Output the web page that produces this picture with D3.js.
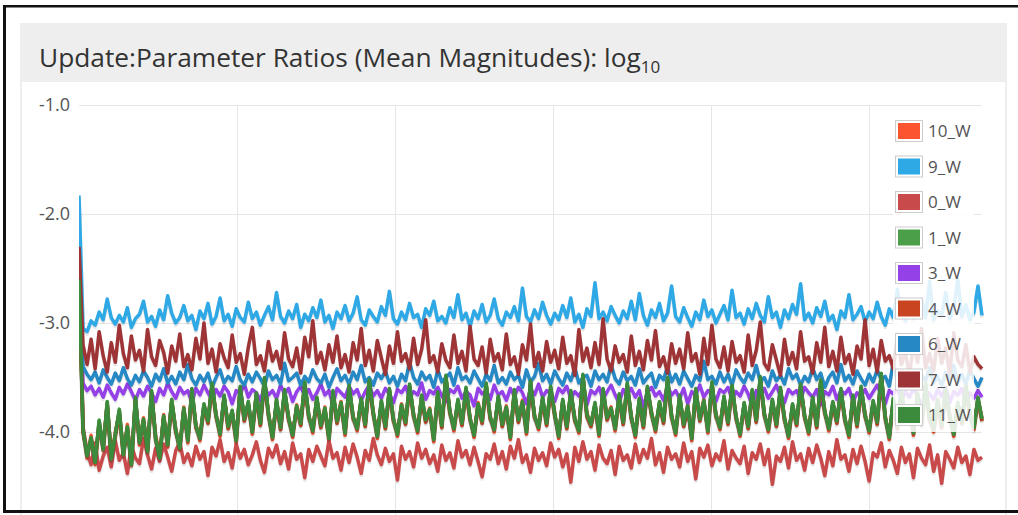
<!DOCTYPE html>
<html>
<head>
<meta charset="utf-8">
<script src="https://cdn.jsdelivr.net/npm/d3@7"></script>
<style>
  html, body { margin: 0; padding: 0; background: #fff; }
  svg { display: block; }
</style>
</head>
<body>
<div id="chart"></div>
<script>
// legend order = draw order (last one ends on top)
var seriesNames = ['10_W', '9_W', '0_W', '1_W', '3_W', '4_W', '6_W', '7_W', '11_W'];
var seriesColors = ['#fc5430', '#2ea9e6', '#c94a4a', '#4a9f48', '#9541e8', '#c94520', '#2688c4', '#9e3436', '#3c8a3c'];
var yTicks = [-1, -2, -3, -4];
var xTicks = [1000, 2000, 3000, 4000, 5000];
var lastIteration = 5715;

var w10 = [
  -2.45,-3.97,-4.24,-4.03,-4.30,-3.92,-4.17,-3.74,-4.27,-4.00,-3.82,-4.22,-3.93,-4.31,-3.70,
  -4.12,-3.87,-4.20,-3.64,-4.07,-4.25,-3.84,-4.14,-3.72,-3.97,-4.17,-3.77,-4.10,-3.62,-3.93,
  -4.08,-3.76,-3.89,-3.57,-3.83,-4.04,-3.68,-3.94,-3.82,-4.10,-3.60,-3.87,-3.74,-4.02,-3.66,
  -3.91,-3.52,-3.82,-4.07,-3.72,-3.95,-3.63,-3.86,-4.05,-3.75,-3.91,-3.56,-3.84,-4.01,-3.70,
  -3.93,-3.77,-4.08,-3.64,-3.89,-3.72,-4.03,-3.59,-3.85,-3.99,-3.71,-3.92,-3.54,-3.81,-4.06,
  -3.73,-3.94,-3.62,-3.87,-4.04,-3.74,-3.90,-3.58,-3.83,-4.01,-3.68,-3.88,-3.78,-4.09,-3.65,
  -3.93,-3.50,-3.80,-3.99,-3.72,-3.91,-3.61,-3.86,-4.05,-3.73,-3.89,-3.57,-3.85,-4.00,-3.69,
  -3.92,-3.76,-4.07,-3.63,-3.88,-3.71,-4.02,-3.55,-3.84,-3.98,-3.70,-3.91,-3.60,-3.82,-4.06,
  -3.72,-3.94,-3.64,-3.87,-4.01,-3.49,-3.83,-3.92,-3.75,-4.04,-3.62,-3.86,-3.77,-3.99,-3.67,
  -3.90,-3.57,-3.85,-4.05,-3.71,-3.93,-3.60,-3.81,-4.00,-3.74,-3.89,-3.52,-3.84,-4.03,-3.68,
  -3.92,-3.75,-4.08,-3.62,-3.87,-3.70,-4.01,-3.56,-3.83,-3.98,-3.69,-3.90,-3.59,-3.85,-4.04,
  -3.75,-3.94,-3.63,-3.88,-3.51,-3.82,-4.00,-3.72,-3.92,-3.61,-3.86,-4.06,-3.76,-3.91,-3.58,
  -3.84,-4.02,-3.70,-3.93,-3.54,-3.80,-3.99,-3.74,-3.89,-3.62,-3.87,-4.05,-3.68,-3.92,-3.60,
  -3.83,-4.01,-3.73,-3.90,-3.48,-3.85,-4.07,-3.71,-3.94,-3.64,-3.88,-3.76,-4.03,-3.66,-3.91,
  -3.57,-3.86,-4.00,-3.72,-3.93,-3.62,-3.84,-4.04,-3.75,-3.89,-3.59,-3.82,-3.98,-3.70,-3.87
];
var w9 = [
  -1.83,-3.05,-3.08,-2.98,-3.02,-2.90,-2.97,-2.78,-2.95,-3.01,-2.93,-2.99,-2.86,-3.04,-2.96,
  -2.92,-2.80,-2.99,-2.94,-3.03,-2.88,-2.97,-2.75,-2.91,-3.00,-2.95,-2.84,-2.98,-2.93,-3.06,
  -2.89,-2.96,-2.82,-3.01,-2.94,-2.77,-2.98,-2.92,-3.03,-2.87,-2.95,-2.99,-2.81,-2.96,-2.90,
  -3.02,-2.93,-2.85,-2.97,-2.72,-2.94,-3.00,-2.89,-2.96,-2.83,-3.04,-2.92,-2.98,-2.86,-2.95,
  -2.79,-2.99,-2.93,-3.05,-2.90,-2.96,-2.84,-2.98,-2.91,-2.76,-2.97,-3.02,-2.88,-2.94,-2.99,
  -2.85,-2.93,-2.71,-2.96,-3.01,-2.90,-2.97,-2.82,-2.95,-2.92,-3.04,-2.87,-2.93,-2.80,-2.98,
  -2.94,-3.00,-2.86,-2.95,-2.74,-2.97,-2.91,-3.03,-2.89,-2.96,-2.83,-2.99,-2.93,-2.78,-2.96,
  -3.02,-2.90,-2.95,-2.85,-2.98,-2.68,-2.94,-2.99,-2.88,-2.96,-2.81,-2.93,-3.01,-2.91,-2.97,
  -2.84,-2.95,-2.77,-2.99,-2.92,-3.04,-2.87,-2.94,-2.63,-2.96,-2.90,-2.98,-2.85,-2.93,-3.00,
  -2.89,-2.96,-2.80,-2.97,-2.73,-2.93,-3.02,-2.88,-2.95,-2.82,-2.98,-2.91,-2.66,-2.94,-2.99,
  -2.86,-2.95,-3.03,-2.90,-2.97,-2.79,-2.94,-2.88,-3.00,-2.92,-2.84,-2.97,-2.70,-2.95,-2.91,
  -3.01,-2.87,-2.96,-2.82,-2.93,-2.99,-2.76,-2.95,-2.90,-3.04,-2.88,-2.96,-2.83,-2.92,-2.64,
  -2.97,-2.91,-3.00,-2.86,-2.94,-2.80,-2.98,-2.93,-3.06,-2.89,-2.95,-2.74,-2.97,-2.92,-2.85,
  -2.99,-2.90,-2.96,-2.81,-2.94,-3.02,-2.87,-2.95,-2.69,-2.93,-2.98,-2.84,-2.96,-2.91,-2.78,
  -2.95,-2.62,-2.97,-2.89,-2.93,-2.72,-2.96,-2.86,-2.60,-2.94,-2.83,-2.97,-2.90,-2.66,-2.93
];
var w0 = [
  -2.40,-3.95,-4.18,-4.30,-4.10,-4.35,-4.22,-4.14,-4.32,-4.08,-4.26,-4.19,-4.38,-4.12,-4.24,
  -4.29,-4.06,-4.21,-4.34,-4.15,-4.27,-4.11,-4.23,-4.36,-4.17,-4.09,-4.28,-4.20,-4.31,-4.13,
  -4.25,-4.18,-4.40,-4.14,-4.22,-4.07,-4.27,-4.19,-4.33,-4.11,-4.24,-4.16,-4.30,-4.21,-4.09,
  -4.26,-4.37,-4.15,-4.23,-4.12,-4.29,-4.18,-4.34,-4.10,-4.25,-4.20,-4.42,-4.16,-4.27,-4.13,
  -4.22,-4.31,-4.08,-4.24,-4.19,-4.35,-4.14,-4.28,-4.11,-4.23,-4.38,-4.17,-4.26,-4.06,-4.21,
  -4.30,-4.15,-4.27,-4.20,-4.44,-4.13,-4.25,-4.18,-4.32,-4.10,-4.24,-4.16,-4.29,-4.21,-4.36,
  -4.12,-4.26,-4.19,-4.33,-4.08,-4.23,-4.17,-4.30,-4.14,-4.27,-4.41,-4.20,-4.25,-4.11,-4.29,
  -4.18,-4.34,-4.13,-4.24,-4.07,-4.28,-4.21,-4.37,-4.15,-4.26,-4.19,-4.31,-4.10,-4.23,-4.16,
  -4.32,-4.20,-4.46,-4.14,-4.27,-4.09,-4.25,-4.18,-4.35,-4.12,-4.24,-4.29,-4.17,-4.39,-4.13,
  -4.26,-4.21,-4.33,-4.11,-4.28,-4.16,-4.24,-4.06,-4.30,-4.19,-4.37,-4.14,-4.25,-4.20,-4.32,
  -4.10,-4.27,-4.18,-4.43,-4.15,-4.23,-4.12,-4.31,-4.20,-4.26,-4.08,-4.34,-4.17,-4.24,-4.29,
  -4.13,-4.38,-4.19,-4.25,-4.11,-4.30,-4.16,-4.48,-4.22,-4.27,-4.14,-4.33,-4.09,-4.26,-4.20,
  -4.35,-4.15,-4.28,-4.12,-4.24,-4.40,-4.18,-4.31,-4.07,-4.25,-4.21,-4.36,-4.16,-4.29,-4.13,
  -4.27,-4.45,-4.19,-4.23,-4.10,-4.32,-4.17,-4.26,-4.38,-4.14,-4.28,-4.20,-4.42,-4.15,-4.24,
  -4.30,-4.12,-4.36,-4.21,-4.47,-4.18,-4.25,-4.33,-4.14,-4.28,-4.22,-4.39,-4.16,-4.26,-4.23
];
var w1 = [
  -2.55,-3.99,-4.21,-4.06,-4.27,-3.89,-4.16,-3.73,-4.24,-4.03,-3.79,-4.21,-3.96,-4.29,-3.69,
  -4.09,-3.89,-4.17,-3.63,-4.06,-4.23,-3.86,-4.11,-3.71,-3.99,-4.14,-3.79,-4.07,-3.61,-3.95,
  -4.05,-3.75,-3.91,-3.56,-3.85,-4.01,-3.67,-3.96,-3.81,-4.07,-3.59,-3.89,-3.73,-3.99,-3.65,
  -3.93,-3.51,-3.84,-4.04,-3.71,-3.97,-3.62,-3.88,-4.02,-3.77,-3.93,-3.55,-3.86,-3.98,-3.69,
  -3.95,-3.79,-4.05,-3.63,-3.91,-3.74,-4.00,-3.58,-3.87,-3.96,-3.70,-3.94,-3.53,-3.83,-4.03,
  -3.72,-3.96,-3.61,-3.89,-4.01,-3.76,-3.92,-3.57,-3.85,-3.98,-3.67,-3.90,-3.80,-4.06,-3.64,
  -3.95,-3.49,-3.82,-3.96,-3.71,-3.93,-3.60,-3.88,-4.02,-3.75,-3.91,-3.56,-3.87,-3.97,-3.68,
  -3.94,-3.78,-4.04,-3.62,-3.90,-3.73,-3.99,-3.54,-3.86,-3.95,-3.69,-3.93,-3.59,-3.84,-4.03,
  -3.71,-3.96,-3.63,-3.89,-3.98,-3.48,-3.85,-3.94,-3.74,-4.01,-3.61,-3.88,-3.79,-3.96,-3.66,
  -3.92,-3.56,-3.87,-4.02,-3.70,-3.95,-3.59,-3.83,-3.97,-3.73,-3.91,-3.51,-3.86,-4.00,-3.67,
  -3.94,-3.77,-4.05,-3.61,-3.89,-3.72,-3.98,-3.55,-3.85,-3.95,-3.68,-3.92,-3.58,-3.87,-4.01,
  -3.74,-3.96,-3.62,-3.90,-3.50,-3.84,-3.97,-3.71,-3.94,-3.60,-3.88,-4.03,-3.75,-3.93,-3.57,
  -3.86,-3.99,-3.69,-3.95,-3.53,-3.82,-3.96,-3.73,-3.91,-3.61,-3.89,-4.02,-3.67,-3.94,-3.59,
  -3.85,-3.98,-3.72,-3.92,-3.47,-3.87,-4.04,-3.70,-3.96,-3.63,-3.90,-3.78,-4.00,-3.65,-3.93,
  -3.56,-3.88,-3.97,-3.71,-3.95,-3.61,-3.86,-4.01,-3.74,-3.91,-3.58,-3.84,-3.95,-3.69,-3.89
];
var w3 = [
  -2.70,-3.55,-3.62,-3.58,-3.66,-3.60,-3.68,-3.57,-3.64,-3.70,-3.59,-3.65,-3.56,-3.63,-3.71,
  -3.61,-3.67,-3.58,-3.64,-3.72,-3.60,-3.66,-3.55,-3.63,-3.69,-3.59,-3.65,-3.62,-3.73,-3.60,
  -3.66,-3.57,-3.64,-3.70,-3.61,-3.67,-3.58,-3.63,-3.74,-3.62,-3.65,-3.56,-3.68,-3.61,-3.64,
  -3.71,-3.59,-3.66,-3.62,-3.69,-3.57,-3.65,-3.60,-3.72,-3.63,-3.58,-3.67,-3.61,-3.70,-3.64,
  -3.56,-3.66,-3.62,-3.75,-3.60,-3.64,-3.68,-3.58,-3.65,-3.61,-3.71,-3.63,-3.57,-3.67,-3.62,
  -3.69,-3.60,-3.65,-3.73,-3.61,-3.64,-3.58,-3.68,-3.63,-3.66,-3.55,-3.70,-3.62,-3.65,-3.59,
  -3.67,-3.72,-3.61,-3.64,-3.58,-3.69,-3.63,-3.66,-3.76,-3.60,-3.65,-3.62,-3.70,-3.57,-3.66,
  -3.63,-3.71,-3.60,-3.67,-3.59,-3.64,-3.74,-3.61,-3.66,-3.56,-3.68,-3.62,-3.65,-3.72,-3.60,
  -3.64,-3.58,-3.69,-3.63,-3.67,-3.61,-3.75,-3.62,-3.65,-3.59,-3.70,-3.63,-3.57,-3.66,-3.73,
  -3.61,-3.65,-3.60,-3.68,-3.62,-3.77,-3.64,-3.59,-3.67,-3.63,-3.71,-3.58,-3.66,-3.62,-3.69,
  -3.60,-3.74,-3.63,-3.66,-3.57,-3.68,-3.62,-3.65,-3.72,-3.61,-3.64,-3.59,-3.70,-3.63,-3.67,
  -3.58,-3.65,-3.76,-3.62,-3.66,-3.60,-3.69,-3.63,-3.57,-3.67,-3.73,-3.61,-3.65,-3.62,-3.70,
  -3.59,-3.64,-3.68,-3.61,-3.75,-3.63,-3.66,-3.58,-3.70,-3.62,-3.65,-3.60,-3.72,-3.64,-3.67,
  -3.61,-3.69,-3.63,-3.57,-3.66,-3.74,-3.62,-3.65,-3.59,-3.71,-3.63,-3.68,-3.60,-3.66,-3.78,
  -3.62,-3.65,-3.70,-3.61,-3.67,-3.59,-3.73,-3.63,-3.66,-3.60,-3.72,-3.64,-3.69,-3.62,-3.68
];
var w4 = [
  -2.50,-4.00,-4.20,-4.07,-4.26,-3.93,-4.13,-3.75,-4.22,-4.04,-3.83,-4.18,-3.97,-4.27,-3.71,
  -4.08,-3.90,-4.16,-3.65,-4.03,-4.21,-3.87,-4.10,-3.73,-4.00,-4.13,-3.80,-4.06,-3.63,-3.96,
  -4.04,-3.77,-3.92,-3.58,-3.86,-4.00,-3.69,-3.97,-3.82,-4.05,-3.61,-3.90,-3.75,-3.98,-3.67,
  -3.94,-3.53,-3.85,-4.03,-3.73,-3.98,-3.64,-3.89,-4.01,-3.78,-3.94,-3.57,-3.87,-3.97,-3.71,
  -3.96,-3.80,-4.04,-3.65,-3.92,-3.75,-3.99,-3.60,-3.88,-3.95,-3.72,-3.95,-3.55,-3.84,-4.02,
  -3.74,-3.97,-3.63,-3.90,-4.00,-3.77,-3.93,-3.59,-3.86,-3.97,-3.69,-3.91,-3.81,-4.04,-3.66,
  -3.96,-3.51,-3.83,-3.95,-3.73,-3.94,-3.62,-3.89,-4.01,-3.76,-3.92,-3.58,-3.88,-3.96,-3.70,
  -3.95,-3.79,-4.03,-3.64,-3.91,-3.74,-3.98,-3.56,-3.87,-3.94,-3.71,-3.94,-3.61,-3.85,-4.02,
  -3.73,-3.97,-3.65,-3.90,-3.97,-3.50,-3.86,-3.95,-3.76,-4.00,-3.63,-3.89,-3.80,-3.95,-3.68,
  -3.93,-3.58,-3.88,-4.01,-3.72,-3.96,-3.61,-3.84,-3.96,-3.75,-3.92,-3.53,-3.87,-3.99,-3.69,
  -3.95,-3.78,-4.04,-3.63,-3.90,-3.73,-3.97,-3.57,-3.86,-3.94,-3.70,-3.93,-3.60,-3.88,-4.00,
  -3.76,-3.97,-3.64,-3.91,-3.52,-3.85,-3.96,-3.73,-3.95,-3.62,-3.89,-4.02,-3.77,-3.94,-3.59,
  -3.87,-3.98,-3.71,-3.96,-3.55,-3.83,-3.95,-3.75,-3.92,-3.63,-3.90,-4.01,-3.69,-3.95,-3.61,
  -3.86,-3.97,-3.74,-3.93,-3.49,-3.88,-4.03,-3.72,-3.97,-3.65,-3.91,-3.79,-3.99,-3.67,-3.94,
  -3.58,-3.89,-3.96,-3.73,-3.96,-3.63,-3.87,-4.00,-3.76,-3.92,-3.60,-3.85,-3.94,-3.71,-3.90
];
var w6 = [
  -2.65,-3.40,-3.47,-3.52,-3.45,-3.55,-3.43,-3.50,-3.56,-3.46,-3.53,-3.41,-3.51,-3.57,-3.48,
  -3.54,-3.44,-3.50,-3.58,-3.47,-3.53,-3.42,-3.55,-3.49,-3.56,-3.45,-3.52,-3.38,-3.51,-3.57,
  -3.48,-3.54,-3.46,-3.59,-3.50,-3.43,-3.55,-3.49,-3.53,-3.40,-3.52,-3.57,-3.47,-3.54,-3.45,
  -3.51,-3.58,-3.44,-3.52,-3.48,-3.56,-3.37,-3.53,-3.50,-3.46,-3.57,-3.49,-3.54,-3.43,-3.51,
  -3.55,-3.47,-3.59,-3.50,-3.42,-3.53,-3.48,-3.56,-3.45,-3.52,-3.39,-3.54,-3.50,-3.57,-3.46,
  -3.51,-3.44,-3.55,-3.49,-3.58,-3.47,-3.53,-3.36,-3.50,-3.56,-3.45,-3.52,-3.48,-3.59,-3.43,
  -3.54,-3.50,-3.46,-3.57,-3.41,-3.52,-3.49,-3.55,-3.44,-3.51,-3.58,-3.47,-3.53,-3.39,-3.55,
  -3.50,-3.56,-3.45,-3.52,-3.48,-3.59,-3.43,-3.54,-3.49,-3.37,-3.53,-3.47,-3.56,-3.44,-3.51,
  -3.57,-3.46,-3.53,-3.41,-3.55,-3.50,-3.48,-3.58,-3.44,-3.52,-3.47,-3.54,-3.38,-3.51,-3.56,
  -3.45,-3.53,-3.49,-3.57,-3.42,-3.55,-3.50,-3.46,-3.59,-3.48,-3.52,-3.40,-3.54,-3.47,-3.56,
  -3.44,-3.51,-3.58,-3.48,-3.53,-3.35,-3.52,-3.49,-3.56,-3.45,-3.54,-3.47,-3.57,-3.43,-3.50,
  -3.55,-3.46,-3.52,-3.39,-3.54,-3.50,-3.58,-3.44,-3.53,-3.48,-3.56,-3.42,-3.51,-3.47,-3.57,
  -3.49,-3.54,-3.41,-3.52,-3.46,-3.59,-3.50,-3.45,-3.55,-3.38,-3.53,-3.48,-3.56,-3.44,-3.51,
  -3.57,-3.47,-3.54,-3.43,-3.52,-3.49,-3.58,-3.36,-3.53,-3.46,-3.55,-3.50,-3.44,-3.56,-3.48,
  -3.53,-3.41,-3.55,-3.49,-3.57,-3.45,-3.52,-3.39,-3.54,-3.47,-3.56,-3.43,-3.51,-3.58,-3.50
];
var w7 = [
  -2.30,-3.20,-3.38,-3.15,-3.42,-3.08,-3.30,-3.45,-3.18,-3.36,-3.02,-3.28,-3.41,-3.12,-3.34,
  -3.25,-3.44,-3.06,-3.31,-3.39,-3.16,-3.27,-3.46,-3.21,-3.35,-3.10,-3.40,-3.29,-3.43,-3.14,
  -3.33,-3.00,-3.37,-3.24,-3.45,-3.19,-3.32,-3.41,-3.11,-3.36,-3.28,-3.47,-3.22,-3.04,-3.38,
  -3.30,-3.44,-3.17,-3.35,-3.26,-3.42,-3.09,-3.33,-3.40,-3.23,-3.46,-3.13,-3.31,-2.98,-3.37,
  -3.27,-3.43,-3.20,-3.36,-3.12,-3.41,-3.29,-3.45,-3.18,-3.34,-3.05,-3.39,-3.25,-3.44,-3.16,
  -3.32,-3.47,-3.21,-3.37,-3.08,-3.35,-3.28,-3.42,-3.14,-3.38,-3.24,-2.97,-3.36,-3.30,-3.45,
  -3.19,-3.34,-3.41,-3.11,-3.37,-3.26,-3.44,-3.03,-3.33,-3.39,-3.22,-3.46,-3.15,-3.35,-3.28,
  -3.43,-3.10,-3.38,-3.31,-3.47,-3.20,-3.34,-3.01,-3.40,-3.27,-3.44,-3.17,-3.36,-3.25,-3.42,
  -3.13,-3.37,-3.30,-3.48,-3.06,-3.35,-3.23,-3.41,-3.18,-3.38,-2.96,-3.33,-3.44,-3.21,-3.36,
  -3.29,-3.45,-3.12,-3.39,-3.26,-3.43,-3.16,-3.34,-3.07,-3.40,-3.31,-3.46,-3.19,-3.37,-3.24,
  -3.42,-3.09,-3.35,-3.28,-3.47,-3.14,-3.38,-3.02,-3.33,-3.41,-3.22,-3.44,-3.17,-3.36,-3.30,
  -3.45,-3.11,-3.39,-3.25,-2.99,-3.37,-3.43,-3.20,-3.34,-3.48,-3.15,-3.38,-3.27,-3.42,-3.08,
  -3.35,-3.31,-3.46,-3.18,-3.36,-3.04,-3.40,-3.26,-3.44,-3.13,-3.37,-3.29,-3.47,-3.21,-3.33,
  -2.97,-3.39,-3.24,-3.45,-3.16,-3.35,-3.30,-3.42,-3.10,-3.38,-3.27,-3.48,-3.19,-3.36,-3.05,
  -3.41,-3.28,-3.44,-3.14,-3.37,-3.23,-3.46,-3.09,-3.34,-3.40,-3.20,-3.45,-3.31,-3.38,-3.42
];
var w11 = [
  -2.60,-3.98,-4.22,-4.05,-4.28,-3.90,-4.15,-3.72,-4.25,-4.02,-3.80,-4.20,-3.95,-4.30,-3.68,
  -4.10,-3.88,-4.18,-3.62,-4.05,-4.24,-3.85,-4.12,-3.70,-3.98,-4.15,-3.78,-4.08,-3.60,-3.94,
  -4.06,-3.74,-3.90,-3.55,-3.84,-4.02,-3.66,-3.95,-3.80,-4.08,-3.58,-3.88,-3.72,-4.00,-3.64,
  -3.92,-3.50,-3.83,-4.05,-3.70,-3.96,-3.61,-3.87,-4.03,-3.76,-3.92,-3.54,-3.85,-3.99,-3.68,
  -3.94,-3.78,-4.06,-3.62,-3.90,-3.73,-4.01,-3.57,-3.86,-3.97,-3.69,-3.93,-3.52,-3.82,-4.04,
  -3.71,-3.95,-3.60,-3.88,-4.02,-3.75,-3.91,-3.56,-3.84,-3.99,-3.66,-3.89,-3.79,-4.07,-3.63,
  -3.94,-3.48,-3.81,-3.97,-3.70,-3.92,-3.59,-3.87,-4.03,-3.74,-3.90,-3.55,-3.86,-3.98,-3.67,
  -3.93,-3.77,-4.05,-3.61,-3.89,-3.72,-4.00,-3.53,-3.85,-3.96,-3.68,-3.92,-3.58,-3.83,-4.04,
  -3.70,-3.95,-3.62,-3.88,-3.99,-3.47,-3.84,-3.93,-3.73,-4.02,-3.60,-3.87,-3.78,-3.97,-3.65,
  -3.91,-3.55,-3.86,-4.03,-3.69,-3.94,-3.58,-3.82,-3.98,-3.72,-3.90,-3.50,-3.85,-4.01,-3.66,
  -3.93,-3.76,-4.06,-3.60,-3.88,-3.71,-3.99,-3.54,-3.84,-3.96,-3.67,-3.91,-3.57,-3.86,-4.02,
  -3.73,-3.95,-3.61,-3.89,-3.49,-3.83,-3.98,-3.70,-3.93,-3.59,-3.87,-4.04,-3.74,-3.92,-3.56,
  -3.85,-4.00,-3.68,-3.94,-3.52,-3.81,-3.97,-3.72,-3.90,-3.60,-3.88,-4.03,-3.66,-3.93,-3.58,
  -3.84,-3.99,-3.71,-3.91,-3.46,-3.86,-4.05,-3.69,-3.95,-3.62,-3.89,-3.77,-4.01,-3.64,-3.92,
  -3.55,-3.87,-3.98,-3.70,-3.94,-3.60,-3.85,-4.02,-3.73,-3.90,-3.57,-3.83,-3.96,-3.68,-3.88
];
var seriesValues = [w10, w9, w0, w1, w3, w4, w6, w7, w11];

window.addEventListener('DOMContentLoaded', function() {

  var W = 1018;
  var H = 515;
  var plot = { left: 79, right: 982, top: 105, bottom: 545 };

  var svg = d3.select('#chart')
              .append('svg')
              .attr('width', W)
              .attr('height', H);

  // panel
  svg.append('rect').attr('x', 0).attr('y', 0).attr('width', W).attr('height', H).attr('fill', '#fff');
  svg.append('rect')
     .attr('x', 20).attr('y', 23).attr('width', 987).attr('height', 520)
     .attr('fill', '#eeeeee');
  svg.append('rect')
     .attr('x', 22).attr('y', 82).attr('width', 983).attr('height', 460)
     .attr('fill', '#fff');

  var title = svg.append('text')
     .attr('x', 39).attr('y', 67)
     .attr('font-family', '"Open Sans", sans-serif')
     .attr('font-size', 26.3)
     .attr('fill', '#333');
  title.append('tspan').text('Update:Parameter Ratios (Mean Magnitudes): log');
  title.append('tspan').attr('font-size', 17).attr('dy', 6).text('10');

  var xScale = d3.scaleLinear()
                 .domain([0, lastIteration])
                 .range([plot.left, plot.right]);
  var yScale = d3.scaleLinear()
                 .domain([-1, -5])
                 .range([plot.top, plot.top + 4 * 109]);

  // grid
  var grid = svg.append('g').attr('stroke', '#e6e6e6').attr('stroke-width', 1);
  grid.selectAll('.hgrid').data(yTicks).enter().append('line')
      .attr('x1', plot.left).attr('x2', plot.right)
      .attr('y1', d => Math.round(yScale(d)) + 0.5)
      .attr('y2', d => Math.round(yScale(d)) + 0.5);
  grid.selectAll('.vgrid').data(xTicks).enter().append('line')
      .attr('x1', d => Math.round(xScale(d)) + 0.5)
      .attr('x2', d => Math.round(xScale(d)) + 0.5)
      .attr('y1', plot.top).attr('y2', plot.bottom);

  var yAxis = d3.axisLeft(yScale)
                .tickValues(yTicks)
                .tickSize(0)
                .tickPadding(9)
                .tickFormat(d => d.toFixed(1));
  var yg = svg.append('g')
     .attr('transform', `translate(${plot.left},0)`)
     .call(yAxis);
  yg.select('.domain').remove();
  yg.selectAll('text')
    .attr('font-family', '"Open Sans", sans-serif')
    .attr('font-size', 18)
    .attr('fill', '#545454');

  svg.append('clipPath').attr('id', 'clip')
     .append('rect')
     .attr('x', plot.left).attr('y', plot.top - 5)
     .attr('width', plot.right - plot.left + 2)
     .attr('height', plot.bottom - plot.top);

  var n = w9.length;
  var iterations = d3.range(n).map(i => i * lastIteration / (n - 1));

  var line = d3.line()
               .x((d, i) => xScale(iterations[i]))
               .y(d => yScale(d));

  var lines = svg.append('g').attr('clip-path', 'url(#clip)');
  seriesValues.forEach(function(vals, k) {
    lines.append('path')
         .attr('d', line(vals))
         .attr('transform', 'translate(0,2)')
         .attr('fill', 'none')
         .attr('stroke', 'rgba(0,0,0,0.1)')
         .attr('stroke-width', 4)
         .attr('stroke-linejoin', 'round');
    lines.append('path')
         .attr('d', line(vals))
         .attr('fill', 'none')
         .attr('stroke', seriesColors[k])
         .attr('stroke-width', 3.5)
         .attr('stroke-linejoin', 'round');
  });

  // legend
  var legend = svg.append('g');
  legend.append('rect')
        .attr('x', 893).attr('y', 117).attr('width', 81).attr('height', 315)
        .attr('fill', '#fff').attr('opacity', 0.85);
  var rowStep = 35.5;
  var rows = legend.selectAll('.row').data(seriesNames).enter().append('g')
        .attr('transform', (d, i) => `translate(0,${131 + i * rowStep})`);
  rows.append('rect')
      .attr('x', 895.5).attr('y', -10.5).attr('width', 27).attr('height', 21)
      .attr('fill', '#fff').attr('stroke', '#ccc');
  rows.append('rect')
      .attr('x', 898).attr('y', -8).attr('width', 22).attr('height', 16)
      .attr('fill', (d, i) => seriesColors[i]);
  rows.append('text')
      .attr('x', 928).attr('y', 6)
      .attr('font-family', '"Open Sans", sans-serif')
      .attr('font-size', 17)
      .attr('fill', '#545454')
      .text(d => d);

  // screenshot frame
  var frame = svg.append('g').attr('fill', '#111');
  frame.append('rect').attr('x', 3).attr('y', 5).attr('width', W - 3).attr('height', 2.5);
  frame.append('rect').attr('x', 3).attr('y', 5).attr('width', 3).attr('height', 508);
  frame.append('rect').attr('x', 3).attr('y', 510).attr('width', W - 3).attr('height', 3);

});
</script>
</body>
</html>
